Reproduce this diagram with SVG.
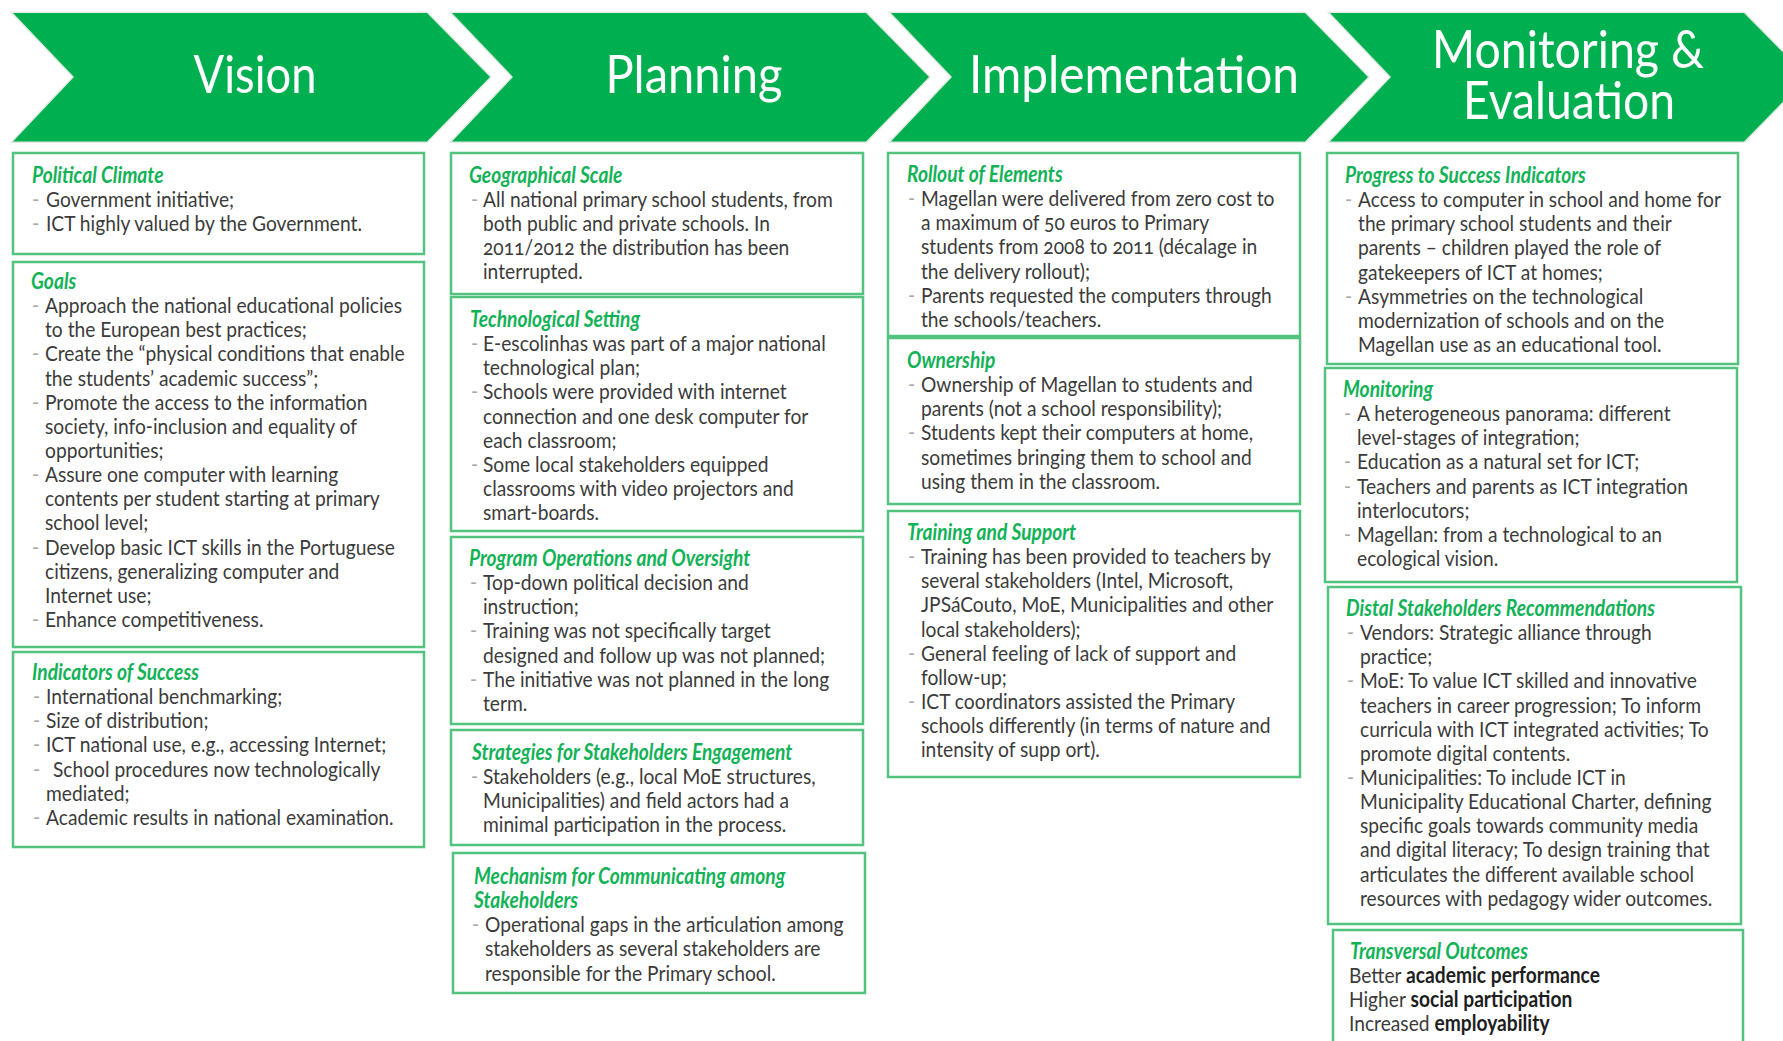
<svg xmlns="http://www.w3.org/2000/svg" width="1783" height="1041" viewBox="0 0 1783 1041">
  <style>
    .chev { fill: #00b050; stroke: #e1ebe4; stroke-width: 3; paint-order: stroke; }
    .hd { font-family: Lato, "Open Sans", "Liberation Sans", sans-serif; font-size: 53px; fill: #ffffff; text-anchor: middle; }
    .box { fill: #ffffff; stroke: #52c27f; stroke-width: 2.5; }
    .t { font-family: Lato, "Open Sans", "Liberation Sans", sans-serif; font-size: 19.2px; }
    .ti { fill: #12b257; font-weight: 700; font-style: italic; }
    .tx { fill: #3b3b3b; }
    .bl { fill: #a9a9a9; }
    .bd { fill: #1e1e1e; font-weight: 700; }
    .on { font-variant-numeric: oldstyle-nums; }
  </style>

  <rect width="1783" height="1041" fill="#ffffff"/>

  <!-- stage chevrons -->
  <g id="stage-vision">
    <polygon class="chev" points="13,13 427,13 490,77 427,141.5 13,141.5 74,77"/>
    <text class="hd" x="255" y="93" textLength="123" lengthAdjust="spacingAndGlyphs">Vision</text>
  </g>
  <g id="stage-planning">
    <polygon class="chev" points="452,13 866,13 929,77 866,141.5 452,141.5 513,77"/>
    <text class="hd" x="694" y="93" textLength="177" lengthAdjust="spacingAndGlyphs">Planning</text>
  </g>
  <g id="stage-implementation">
    <polygon class="chev" points="891,13 1305,13 1368,77 1305,141.5 891,141.5 952,77"/>
    <text class="hd" x="1134" y="93" textLength="330" lengthAdjust="spacingAndGlyphs">Implementation</text>
  </g>
  <g id="stage-monitoring">
    <polygon class="chev" points="1330,13 1744,13 1807,77 1744,141.5 1330,141.5 1391,77"/>
    <text class="hd" x="1568" y="68" textLength="272" lengthAdjust="spacingAndGlyphs">Monitoring &amp;</text>
    <text class="hd" x="1569" y="119" textLength="212" lengthAdjust="spacingAndGlyphs">Evaluation</text>
  </g>

  <!-- Vision column -->
  <g id="political-climate">
    <rect class="box" x="13" y="153" width="411" height="101"/>
    <text class="t" transform="translate(0,182.5) scale(1,1.15)">
      <tspan class="ti" x="32" y="0">Political Climate</tspan>
      <tspan class="bl" x="32" dy="21">-</tspan><tspan class="tx" x="46">Government initiative;</tspan>
      <tspan class="bl" x="32" dy="21">-</tspan><tspan class="tx" x="46">ICT highly valued by the Government.</tspan>
    </text>
  </g>
  <g id="goals">
    <rect class="box" x="13" y="262" width="411" height="385"/>
    <text class="t" transform="translate(0,289) scale(1,1.15)">
      <tspan class="ti" x="31" y="0">Goals</tspan>
      <tspan class="bl" x="32" dy="21">-</tspan><tspan class="tx" x="45">Approach the national educational policies</tspan>
      <tspan class="tx" x="45" dy="21">to the European best practices;</tspan>
      <tspan class="bl" x="32" dy="21">-</tspan><tspan class="tx" x="45">Create the “physical conditions that enable</tspan>
      <tspan class="tx" x="45" dy="21">the students’ academic success”;</tspan>
      <tspan class="bl" x="32" dy="21">-</tspan><tspan class="tx" x="45">Promote the access to the information</tspan>
      <tspan class="tx" x="45" dy="21">society, info-inclusion  and equality of</tspan>
      <tspan class="tx" x="45" dy="21">opportunities;</tspan>
      <tspan class="bl" x="32" dy="21">-</tspan><tspan class="tx" x="45">Assure one computer with learning</tspan>
      <tspan class="tx" x="45" dy="21">contents per student starting at primary</tspan>
      <tspan class="tx" x="45" dy="21">school level;</tspan>
      <tspan class="bl" x="32" dy="21">-</tspan><tspan class="tx" x="45">Develop basic ICT skills in the Portuguese</tspan>
      <tspan class="tx" x="45" dy="21">citizens, generalizing computer and</tspan>
      <tspan class="tx" x="45" dy="21">Internet use;</tspan>
      <tspan class="bl" x="32" dy="21">-</tspan><tspan class="tx" x="45">Enhance competitiveness.</tspan>
    </text>
  </g>
  <g id="indicators-of-success">
    <rect class="box" x="13" y="652" width="411" height="195"/>
    <text class="t" transform="translate(0,680) scale(1,1.15)">
      <tspan class="ti" x="32" y="0">Indicators of Success</tspan>
      <tspan class="bl" x="33" dy="21">-</tspan><tspan class="tx" x="46">International benchmarking;</tspan>
      <tspan class="bl" x="33" dy="21">-</tspan><tspan class="tx" x="46">Size of distribution;</tspan>
      <tspan class="bl" x="33" dy="21">-</tspan><tspan class="tx" x="46">ICT national use, e.g., accessing Internet;</tspan>
      <tspan class="bl" x="33" dy="21">-</tspan><tspan class="tx" x="53">School procedures now technologically</tspan>
      <tspan class="tx" x="46" dy="21">mediated;</tspan>
      <tspan class="bl" x="33" dy="21">-</tspan><tspan class="tx" x="46">Academic results in national examination.</tspan>
    </text>
  </g>

  <!-- Planning column -->
  <g id="geographical-scale">
    <rect class="box" x="451" y="153" width="412" height="141"/>
    <text class="t" transform="translate(0,182.7) scale(1,1.15)">
      <tspan class="ti" x="469" y="0">Geographical Scale</tspan>
      <tspan class="bl" x="471" dy="21">-</tspan><tspan class="tx" x="483">All national primary school students, from</tspan>
      <tspan class="tx" x="483" dy="21">both public and private schools. In</tspan>
      <tspan class="tx on" x="483" dy="21">2011/2012 the distribution has been</tspan>
      <tspan class="tx" x="483" dy="21">interrupted.</tspan>
    </text>
  </g>
  <g id="technological-setting">
    <rect class="box" x="451" y="297" width="412" height="234"/>
    <text class="t" transform="translate(0,327) scale(1,1.15)">
      <tspan class="ti" x="470" y="0">Technological Setting</tspan>
      <tspan class="bl" x="471" dy="21">-</tspan><tspan class="tx" x="483">E-escolinhas was part of a major national</tspan>
      <tspan class="tx" x="483" dy="21">technological plan;</tspan>
      <tspan class="bl" x="471" dy="21">-</tspan><tspan class="tx" x="483">Schools were provided with internet</tspan>
      <tspan class="tx" x="483" dy="21">connection and one desk computer for</tspan>
      <tspan class="tx" x="483" dy="21">each classroom;</tspan>
      <tspan class="bl" x="471" dy="21">-</tspan><tspan class="tx" x="483">Some local stakeholders equipped</tspan>
      <tspan class="tx" x="483" dy="21">classrooms with video projectors and</tspan>
      <tspan class="tx" x="483" dy="21">smart-boards.</tspan>
    </text>
  </g>
  <g id="program-operations">
    <rect class="box" x="451" y="537" width="412" height="187"/>
    <text class="t" transform="translate(0,566) scale(1,1.15)">
      <tspan class="ti" x="469" y="0">Program Operations and Oversight</tspan>
      <tspan class="bl" x="470" dy="21">-</tspan><tspan class="tx" x="483">Top-down political decision and</tspan>
      <tspan class="tx" x="483" dy="21">instruction;</tspan>
      <tspan class="bl" x="470" dy="21">-</tspan><tspan class="tx" x="483">Training was not specifically target</tspan>
      <tspan class="tx" x="483" dy="21">designed and follow up was not planned;</tspan>
      <tspan class="bl" x="470" dy="21">-</tspan><tspan class="tx" x="483">The initiative was not planned in the long</tspan>
      <tspan class="tx" x="483" dy="21">term.</tspan>
    </text>
  </g>
  <g id="stakeholder-engagement">
    <rect class="box" x="451" y="730" width="412" height="115"/>
    <text class="t" transform="translate(0,760) scale(1,1.15)">
      <tspan class="ti" x="472" y="0">Strategies for Stakeholders Engagement</tspan>
      <tspan class="bl" x="471" dy="21">-</tspan><tspan class="tx" x="483">Stakeholders (e.g., local MoE structures,</tspan>
      <tspan class="tx" x="483" dy="21">Municipalities) and field actors had a</tspan>
      <tspan class="tx" x="483" dy="21">minimal participation in the process.</tspan>
    </text>
  </g>
  <g id="communication-mechanism">
    <rect class="box" x="453" y="853" width="412" height="140"/>
    <text class="t" transform="translate(0,884) scale(1,1.15)">
      <tspan class="ti" x="474" y="0">Mechanism for Communicating among</tspan>
      <tspan class="ti" x="474" dy="21">Stakeholders</tspan>
      <tspan class="bl" x="472" dy="21">-</tspan><tspan class="tx" x="485">Operational gaps in the articulation among</tspan>
      <tspan class="tx" x="485" dy="21">stakeholders as several stakeholders are</tspan>
      <tspan class="tx" x="485" dy="21">responsible for the Primary school.</tspan>
    </text>
  </g>

  <!-- Implementation column -->
  <g id="rollout-of-elements">
    <rect class="box" x="888" y="153" width="412" height="183"/>
    <text class="t" transform="translate(0,182) scale(1,1.15)">
      <tspan class="ti" x="907" y="0">Rollout of Elements</tspan>
      <tspan class="bl" x="908" dy="21">-</tspan><tspan class="tx" x="921">Magellan were delivered from zero cost to</tspan>
      <tspan class="tx on" x="921" dy="21">a maximum of 50 euros to Primary</tspan>
      <tspan class="tx on" x="921" dy="21">students from 2008 to 2011 (décalage in</tspan>
      <tspan class="tx" x="921" dy="21">the delivery rollout);</tspan>
      <tspan class="bl" x="908" dy="21">-</tspan><tspan class="tx" x="921">Parents requested the computers through</tspan>
      <tspan class="tx" x="921" dy="21">the schools/teachers.</tspan>
    </text>
  </g>
  <g id="ownership">
    <rect class="box" x="888" y="338" width="412" height="166"/>
    <text class="t" transform="translate(0,368) scale(1,1.15)">
      <tspan class="ti" x="907" y="0">Ownership</tspan>
      <tspan class="bl" x="908" dy="21">-</tspan><tspan class="tx" x="921">Ownership of Magellan to students and</tspan>
      <tspan class="tx" x="921" dy="21">parents (not a school responsibility);</tspan>
      <tspan class="bl" x="908" dy="21">-</tspan><tspan class="tx" x="921">Students kept their computers at home,</tspan>
      <tspan class="tx" x="921" dy="21">sometimes bringing them to school and</tspan>
      <tspan class="tx" x="921" dy="21">using them in the classroom.</tspan>
    </text>
  </g>
  <g id="training-and-support">
    <rect class="box" x="888" y="511" width="412" height="266"/>
    <text class="t" transform="translate(0,540) scale(1,1.15)">
      <tspan class="ti" x="907" y="0">Training and Support</tspan>
      <tspan class="bl" x="908" dy="21">-</tspan><tspan class="tx" x="921">Training has been provided to teachers by</tspan>
      <tspan class="tx" x="921" dy="21">several stakeholders (Intel, Microsoft,</tspan>
      <tspan class="tx" x="921" dy="21">JPSáCouto, MoE, Municipalities and other</tspan>
      <tspan class="tx" x="921" dy="21">local stakeholders);</tspan>
      <tspan class="bl" x="908" dy="21">-</tspan><tspan class="tx" x="921">General feeling of lack of support and</tspan>
      <tspan class="tx" x="921" dy="21">follow-up;</tspan>
      <tspan class="bl" x="908" dy="21">-</tspan><tspan class="tx" x="921">ICT coordinators assisted the Primary</tspan>
      <tspan class="tx" x="921" dy="21">schools differently (in terms of nature and</tspan>
      <tspan class="tx" x="921" dy="21">intensity of supp ort).</tspan>
    </text>
  </g>

  <!-- Monitoring & Evaluation column -->
  <g id="progress-indicators">
    <rect class="box" x="1327" y="153" width="411" height="211"/>
    <text class="t" transform="translate(0,183) scale(1,1.15)">
      <tspan class="ti" x="1345" y="0">Progress to Success Indicators</tspan>
      <tspan class="bl" x="1345" dy="21">-</tspan><tspan class="tx" x="1358">Access to computer in school and home for</tspan>
      <tspan class="tx" x="1358" dy="21">the primary school students and their</tspan>
      <tspan class="tx" x="1358" dy="21">parents  – children played the role of</tspan>
      <tspan class="tx" x="1358" dy="21">gatekeepers of ICT at homes;</tspan>
      <tspan class="bl" x="1345" dy="21">-</tspan><tspan class="tx" x="1358">Asymmetries on the technological</tspan>
      <tspan class="tx" x="1358" dy="21">modernization of schools and on the</tspan>
      <tspan class="tx" x="1358" dy="21">Magellan use as an educational tool.</tspan>
    </text>
  </g>
  <g id="monitoring">
    <rect class="box" x="1325" y="368" width="412" height="214"/>
    <text class="t" transform="translate(0,397) scale(1,1.15)">
      <tspan class="ti" x="1343" y="0">Monitoring</tspan>
      <tspan class="bl" x="1344" dy="21">-</tspan><tspan class="tx" x="1357">A heterogeneous panorama: different</tspan>
      <tspan class="tx" x="1357" dy="21">level-stages of integration;</tspan>
      <tspan class="bl" x="1344" dy="21">-</tspan><tspan class="tx" x="1357">Education as a natural set for ICT;</tspan>
      <tspan class="bl" x="1344" dy="21">-</tspan><tspan class="tx" x="1357">Teachers and parents as ICT integration</tspan>
      <tspan class="tx" x="1357" dy="21">interlocutors;</tspan>
      <tspan class="bl" x="1344" dy="21">-</tspan><tspan class="tx" x="1357">Magellan: from a technological to an</tspan>
      <tspan class="tx" x="1357" dy="21">ecological vision.</tspan>
    </text>
  </g>
  <g id="distal-stakeholders">
    <rect class="box" x="1328" y="587" width="413" height="337"/>
    <text class="t" transform="translate(0,616) scale(1,1.15)">
      <tspan class="ti" x="1346" y="0">Distal Stakeholders Recommendations</tspan>
      <tspan class="bl" x="1347" dy="21">-</tspan><tspan class="tx" x="1360">Vendors:  Strategic alliance through</tspan>
      <tspan class="tx" x="1360" dy="21">practice;</tspan>
      <tspan class="bl" x="1347" dy="21">-</tspan><tspan class="tx" x="1360">MoE: To value ICT skilled and innovative</tspan>
      <tspan class="tx" x="1360" dy="21">teachers in career progression; To inform</tspan>
      <tspan class="tx" x="1360" dy="21">curricula with ICT integrated activities; To</tspan>
      <tspan class="tx" x="1360" dy="21">promote digital contents.</tspan>
      <tspan class="bl" x="1347" dy="21">-</tspan><tspan class="tx" x="1360">Municipalities:  To include ICT in</tspan>
      <tspan class="tx" x="1360" dy="21">Municipality Educational Charter, defining</tspan>
      <tspan class="tx" x="1360" dy="21">specific goals towards community  media</tspan>
      <tspan class="tx" x="1360" dy="21">and digital literacy; To design training that</tspan>
      <tspan class="tx" x="1360" dy="21">articulates the different  available school</tspan>
      <tspan class="tx" x="1360" dy="21">resources with pedagogy wider outcomes.</tspan>
    </text>
  </g>
  <g id="transversal-outcomes">
    <rect class="box" x="1333" y="930" width="410" height="130"/>
    <text class="t" transform="translate(0,959) scale(1,1.15)">
      <tspan class="ti" x="1350" y="0">Transversal Outcomes</tspan>
      <tspan class="tx" x="1349" dy="21">Better </tspan><tspan class="bd">academic performance</tspan>
      <tspan class="tx" x="1349" dy="21">Higher </tspan><tspan class="bd">social participation</tspan>
      <tspan class="tx" x="1349" dy="21">Increased </tspan><tspan class="bd">employability</tspan>
    </text>
  </g>
</svg>
